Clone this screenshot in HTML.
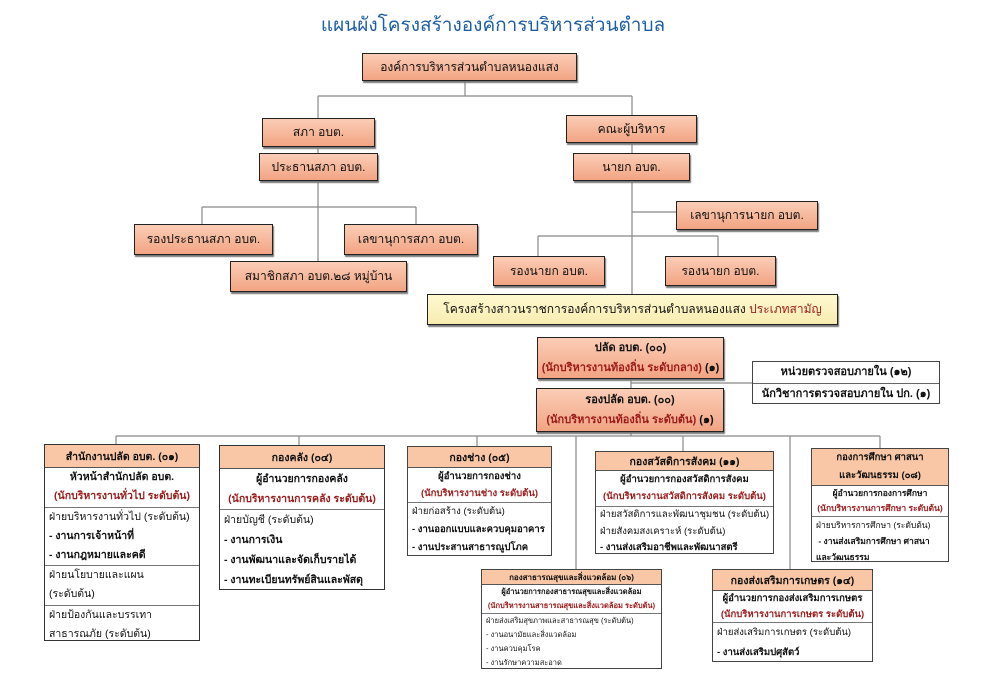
<!DOCTYPE html>
<html><head><meta charset="utf-8"><style>
body{margin:0;width:986px;height:680px;background:#fff;position:relative;overflow:hidden;font-family:"Liberation Sans","Noto Sans CJK SC",sans-serif;color:#111}
.a{position:absolute;box-sizing:border-box}
.t{display:flex;align-items:center;justify-content:center;background:linear-gradient(#fbcdb6,#f2a483);border:1.5px solid #222;box-shadow:1px 2px 1px #777;font-size:12px;white-space:nowrap}
.b{border:1px solid #444;background:#fff;font-size:10.5px;white-space:nowrap;overflow:hidden}
.h{background:#f9c7a6;border-bottom:1px solid #555;display:flex;align-items:center;justify-content:center;text-align:center;font-weight:bold}
.s{border-bottom:1px solid #777;text-align:center}
.s:last-child{border-bottom:none}
.l{text-align:left;padding-left:4px}
.r{color:#9b1c1c}
</style></head><body>
<svg class="a" style="left:0;top:0" width="986" height="680">
<g stroke="#888" stroke-width="1.2" fill="none">
<path d="M465 80V96M318 96H632M318 96V118M632 96V115"/>
<path d="M318 147V153M318 180V261M202 207H416M202 207V224M416 207V224"/>
<path d="M632 143V153M632 180V294M632 212H676M538 236H718M538 236V256M718 236V256"/>
<path d="M631 379V388M631 383H752"/>
<path d="M631 432V436M116 436H880M116 436V444M299 436V445M477 436V446M576 436V569M683 436V451M790 436V569M880 436V448"/>
</g></svg>
<div class="a" style="left:0;top:10px;width:986px;text-align:center;font-size:19px;color:#1d5fa6">แผนผังโครงสร้างองค์การบริหารส่วนตำบล</div>
<div class="a t" style="left:362px;top:53px;width:215px;height:28px">องค์การบริหารส่วนตำบลหนองแสง</div>
<div class="a t" style="left:262px;top:118px;width:113px;height:29px">สภา อบต.</div>
<div class="a t" style="left:566px;top:115px;width:131px;height:28px">คณะผู้บริหาร</div>
<div class="a t" style="left:259px;top:153px;width:119px;height:28px">ประธานสภา อบต.</div>
<div class="a t" style="left:573px;top:153px;width:117px;height:28px">นายก อบต.</div>
<div class="a t" style="left:676px;top:201px;width:142px;height:29px">เลขานุการนายก อบต.</div>
<div class="a t" style="left:134px;top:224px;width:139px;height:31px">รองประธานสภา อบต.</div>
<div class="a t" style="left:344px;top:224px;width:134px;height:31px">เลขานุการสภา อบต.</div>
<div class="a t" style="left:230px;top:261px;width:177px;height:31px">สมาชิกสภา อบต.๒๘ หมู่บ้าน</div>
<div class="a t" style="left:493px;top:256px;width:112px;height:30px">รองนายก อบต.</div>
<div class="a t" style="left:665px;top:256px;width:111px;height:30px">รองนายก อบต.</div>
<div class="a t" style="left:427px;top:294px;width:411px;height:31px;background:linear-gradient(#fff9d0,#f7ecb0)">โครงสร้างสาวนราชการองค์การบริหารส่วนตำบลหนองแสง&nbsp;<span class="r">ประเภทสามัญ</span></div>

<div class="a t" style="left:537px;top:337px;width:187px;height:42px;flex-direction:column;font-size:11px;font-weight:bold;line-height:20px"><div>ปลัด อบต. (๐๐)</div><div><span class="r">(นักบริหารงานท้องถิ่น ระดับกลาง)</span> (๑)</div></div>
<div class="a t" style="left:536px;top:388px;width:188px;height:44px;flex-direction:column;font-size:11px;font-weight:bold;line-height:20px"><div>รองปลัด อบต. (๐๐)</div><div><span class="r">(นักบริหารงานท้องถิ่น ระดับต้น)</span> (๑)</div></div>
<div class="a b" style="left:752px;top:361px;width:188px;height:43px;font-size:11px;font-weight:bold;text-align:center"><div style="height:21px;line-height:21px;border-bottom:1px solid #666">หน่วยตรวจสอบภายใน (๑๒)</div><div style="line-height:21px">นักวิชาการตรวจสอบภายใน ปก. (๑)</div></div>

<div class="a b" style="left:44px;top:444px;width:156px;height:197px;border:1.5px solid #333">
<div class="h" style="height:22px">สำนักงานปลัด อบต. (๐๑)</div>
<div class="s" style="height:39px;line-height:19px;font-weight:bold">หัวหน้าสำนักปลัด อบต.<br><span class="r">(นักบริหารงานทั่วไป ระดับต้น)</span></div>
<div class="s l" style="height:57px;line-height:19px">ฝ่ายบริหารงานทั่วไป (ระดับต้น)<br><b>- งานการเจ้าหน้าที่<br>- งานกฎหมายและคดี</b></div>
<div class="s l" style="height:39px;line-height:19px">ฝ่ายนโยบายและแผน<br>(ระดับต้น)</div>
<div class="s l" style="height:39px;line-height:19px">ฝ่ายป้องกันและบรรเทา<br>สาธารณภัย (ระดับต้น)</div>
</div>
<div class="a b" style="left:219px;top:445px;width:166px;height:145px;border:1.5px solid #333">
<div class="h" style="height:22px">กองคลัง (๐๔)</div>
<div class="s" style="height:40px;line-height:20px;font-weight:bold">ผู้อำนวยการกองคลัง<br><span class="r">(นักบริหารงานการคลัง ระดับต้น)</span></div>
<div class="s l" style="line-height:20px">ฝ่ายบัญชี (ระดับต้น)<br><b>- งานการเงิน<br>- งานพัฒนาและจัดเก็บรายได้<br>- งานทะเบียนทรัพย์สินและพัสดุ</b></div>
</div>
<div class="a b" style="left:407px;top:446px;width:145px;height:110px;font-size:9.5px">
<div class="h" style="height:20px;font-size:10.5px">กองช่าง (๐๕)</div>
<div class="s" style="height:34px;line-height:17px;font-weight:bold">ผู้อำนวยการกองช่าง<br><span class="r">(นักบริหารงานช่าง ระดับต้น)</span></div>
<div class="s l" style="line-height:18px">ฝ่ายก่อสร้าง (ระดับต้น)<br><b>- งานออกแบบและควบคุมอาคาร<br>- งานประสานสาธารณูปโภค</b></div>
</div>
<div class="a b" style="left:595px;top:451px;width:179px;height:103px;font-size:9.5px">
<div class="h" style="height:18px;font-size:10.5px">กองสวัสดิการสังคม (๑๑)</div>
<div class="s" style="height:35px;line-height:17px;font-weight:bold">ผู้อำนวยการกองสวัสดิการสังคม<br><span class="r">(นักบริหารงานสวัสดิการสังคม ระดับต้น)</span></div>
<div class="s l" style="line-height:16.5px">ฝ่ายสวัสดิการและพัฒนาชุมชน (ระดับต้น)<br>ฝ่ายสังคมสงเคราะห์ (ระดับต้น)<br><b>- งานส่งเสริมอาชีพและพัฒนาสตรี</b></div>
</div>
<div class="a b" style="left:811px;top:448px;width:138px;height:114px;font-size:8.5px">
<div class="h" style="height:36px;line-height:18px;font-size:9.5px">กองการศึกษา ศาสนา<br>และวัฒนธรรม (๐๘)</div>
<div class="s" style="height:30px;line-height:15px;font-weight:bold">ผู้อำนวยการกองการศึกษา<br><span class="r">(นักบริหารงานการศึกษา ระดับต้น)</span></div>
<div class="s l" style="line-height:16px">ฝ่ายบริหารการศึกษา (ระดับต้น)<br><b>&nbsp;- งานส่งเสริมการศึกษา ศาสนา<br>และวัฒนธรรม</b></div>
</div>
<div class="a b" style="left:481px;top:569px;width:181px;height:100px;font-size:7.5px">
<div class="h" style="height:14px;font-size:8px">กองสาธารณสุขและสิ่งแวดล้อม (๐๖)</div>
<div class="s" style="height:28px;line-height:14px;font-weight:bold">ผู้อำนวยการกองสาธารณสุขและสิ่งแวดล้อม<br><span class="r">(นักบริหารงานสาธารณสุขและสิ่งแวดล้อม ระดับต้น)</span></div>
<div class="s l" style="line-height:14px">ฝ่ายส่งเสริมสุขภาพและสาธารณสุข (ระดับต้น)<br>- งานอนามัยและสิ่งแวดล้อม<br>- งานควบคุมโรค<br>- งานรักษาความสะอาด</div>
</div>
<div class="a b" style="left:712px;top:569px;width:161px;height:93px;font-size:9.5px">
<div class="h" style="height:20px;font-size:10.5px">กองส่งเสริมการเกษตร (๑๔)</div>
<div class="s" style="height:31px;line-height:15.5px;font-weight:bold">ผู้อำนวยการกองส่งเสริมการเกษตร<br><span class="r">(นักบริหารงานการเกษตร ระดับต้น)</span></div>
<div class="s l" style="line-height:20px">ฝ่ายส่งเสริมการเกษตร (ระดับต้น)<br><b>- งานส่งเสริมปศุสัตว์</b></div>
</div>
</body></html>
